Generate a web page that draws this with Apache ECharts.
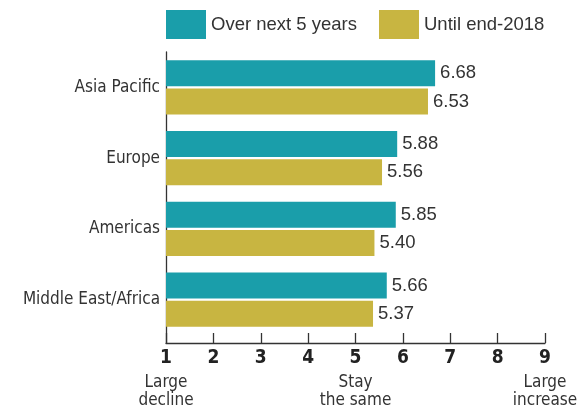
<!DOCTYPE html>
<html><head><meta charset="utf-8">
<script src="https://cdn.jsdelivr.net/npm/echarts@6/dist/echarts.min.js"></script>
<style>html,body{margin:0;padding:0;background:#fff}#c{width:586px;height:416px}</style>
</head><body><div id="c"></div>
<script>
const categories = ['Asia Pacific', 'Europe', 'Americas', 'Middle East/Africa'];
const seriesNames = ['Over next 5 years', 'Until end-2018'];
const nextFiveYears = [6.68, 5.88, 5.85, 5.66];
const untilEnd2018 = [6.53, 5.56, 5.40, 5.37];
const tickValues = [1, 2, 3, 4, 5, 6, 7, 8, 9];
const tickNotes = { 1: ['Large', 'decline'], 5: ['Stay', 'the same'], 9: ['Large', 'increase'] };
const colors = ['#1a9eaa', '#c8b541'];

const narrow = "'Liberation Sans Narrow', 'DejaVu Sans Condensed', sans-serif";
const sans = "'Liberation Sans', Arial, sans-serif";

const chart = echarts.init(document.getElementById('c'), null, { renderer: 'canvas' });
chart.setOption({
  animation: false,
  color: colors,
  legend: {
    top: 10, left: 166, padding: 0,
    itemWidth: 40, itemHeight: 29, itemGap: 22,
    icon: 'rect',
    textStyle: { fontFamily: sans, fontSize: 18.5, color: '#333' },
    data: seriesNames
  },
  grid: [
    { left: 166, right: 41, top: 52, height: 283 },
    { left: 166, right: 41, top: 52, bottom: 73 }
  ],
  xAxis: [
    { gridIndex: 0, type: 'value', min: 1, max: 9, interval: 1, show: false },
    {
      gridIndex: 1, type: 'value', min: 1, max: 9, interval: 1,
      axisLine: { show: true, lineStyle: { color: '#333', width: 1.3 } },
      axisTick: { show: true, inside: true, length: 10, lineStyle: { color: '#333', width: 1.3 } },
      splitLine: { show: false },
      axisLabel: {
        margin: 5,
        formatter: function (v) {
          const n = tickNotes[v];
          let s = '{n|' + v + '}';
          if (n) s += '\n{d1|' + n[0] + '}\n{d|' + n[1] + '}';
          return s;
        },
        rich: {
          n: { fontFamily: narrow, fontWeight: 'bold', fontSize: 19, color: '#222', lineHeight: 20 },
          d1: { fontFamily: narrow, fontSize: 17, color: '#333', lineHeight: 22, padding: [7, 0, 0, 0] },
          d: { fontFamily: narrow, fontSize: 17, color: '#333', lineHeight: 22 }
        },
        verticalAlign: 'top'
      }
    }
  ],
  yAxis: [
    {
      gridIndex: 0, type: 'category', data: categories, inverse: true,
      axisLine: { show: false }, axisTick: { show: false },
      axisLabel: { fontFamily: narrow, fontSize: 17, color: '#333', margin: 6 }
    },
    {
      gridIndex: 1, type: 'value', min: 0, max: 1,
      axisLine: { show: true, lineStyle: { color: '#333', width: 1.3 } },
      axisTick: { show: false }, axisLabel: { show: false }, splitLine: { show: false }
    }
  ],
  series: [
    {
      name: seriesNames[0], type: 'bar', xAxisIndex: 0, yAxisIndex: 0,
      data: nextFiveYears, barWidth: 26, barGap: '8%',
      label: { show: true, position: 'right', distance: 5, fontFamily: sans, fontSize: 18.5, color: '#333', formatter: p => p.value.toFixed(2) }
    },
    {
      name: seriesNames[1], type: 'bar', xAxisIndex: 0, yAxisIndex: 0,
      data: untilEnd2018, barWidth: 26, barGap: '8%',
      label: { show: true, position: 'right', distance: 5, fontFamily: sans, fontSize: 18.5, color: '#333', formatter: p => p.value.toFixed(2) }
    }
  ]
});
</script></body></html>
